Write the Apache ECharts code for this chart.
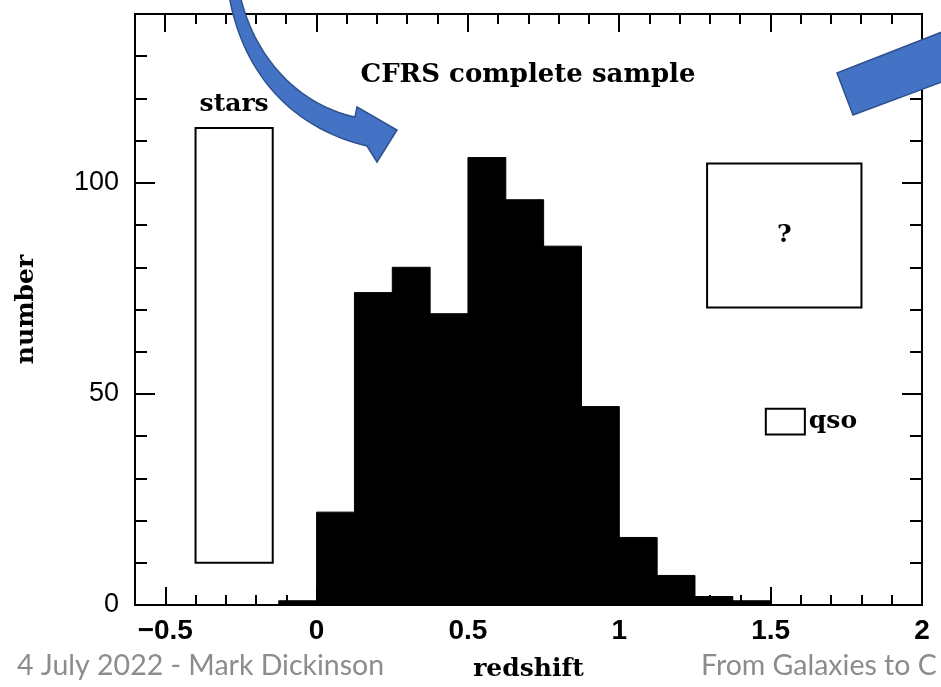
<!DOCTYPE html>
<html><head><meta charset="utf-8">
<script src="https://cdn.jsdelivr.net/npm/echarts@6/dist/echarts.min.js"></script>
<style>html,body{margin:0;padding:0;background:#fff}#c{width:941px;height:687px}</style>
</head><body><div id="c"></div>
<script>
// histogram of CFRS redshifts
const binStarts = [-0.125, 0, 0.125, 0.25, 0.375, 0.5, 0.625, 0.75, 0.875, 1.0, 1.125, 1.25, 1.375];
const binWidth = 0.125;
const counts = [1, 22, 74, 80, 69, 106, 96, 85, 47, 16, 7, 2, 1];

// outlined boxes (non-galaxy / unidentified objects)
const boxNames = ['stars', '?', 'qso'];
const boxXStart = [-0.4, 1.29, 1.484];
const boxXEnd = [-0.145, 1.8, 1.613];
const boxYLow = [10, 70.5, 40.4];
const boxYHigh = [113, 104.6, 46.5];

const xMajorTicks = [-0.5, 0, 0.5, 1, 1.5, 2];
const xTickLabels = ['\u22120.5', '0', '0.5', '1', '1.5', '2'];
const xMinorTicks = [-0.5, -0.4, -0.3, -0.2, -0.1, 0, 0.1, 0.2, 0.3, 0.4, 0.5, 0.6, 0.7, 0.8, 0.9,
  1.0, 1.1, 1.2, 1.3, 1.4, 1.5, 1.6, 1.7, 1.8, 1.9];
const yMajorTicks = [0, 50, 100];
const yTickLabels = ['0', '50', '100'];

const titleText = 'CFRS complete sample';
const xName = 'redshift';
const yName = 'number';
const footerLeft = '4 July 2022 - Mark Dickinson';
const footerRight = 'From Galaxies to C';

const X_MIN = -0.6, X_MAX = 2.0, Y_MIN = 0, Y_MAX = 140;
const serifBold = {fontFamily: 'DejaVu Serif', fontWeight: 'bold', fontSize: 25, color: '#000'};

function lookup(vals, labels, v) {
  const i = vals.findIndex(t => Math.abs(t - v) < 1e-6);
  return i >= 0 ? labels[i] : '';
}
function minorX() {
  return {type: 'value', position: 'bottom', min: X_MIN, max: X_MAX, interval: 0.1,
    axisLine: {show: false, onZero: false}, splitLine: {show: false}, axisLabel: {show: false},
    axisTick: {show: true, inside: true, length: 10, lineStyle: {color: '#000', width: 2}}};
}
function majorX() {
  return {type: 'value', position: 'bottom', min: X_MIN, max: X_MAX,
    axisLine: {show: false, onZero: false}, splitLine: {show: false},
    axisTick: {show: true, inside: true, length: 18, customValues: xMajorTicks, lineStyle: {color: '#000', width: 2}},
    axisLabel: {show: true, customValues: xMajorTicks, margin: 12,
      formatter: v => lookup(xMajorTicks, xTickLabels, v),
      fontFamily: 'Liberation Sans', fontWeight: 'bold', fontSize: 28, color: '#000'},
    name: xName, nameLocation: 'middle', nameGap: 52, nameTextStyle: serifBold};
}
function minorY(pos) {
  return {type: 'value', position: pos, min: Y_MIN, max: Y_MAX, interval: 10,
    axisLine: {show: false, onZero: false}, splitLine: {show: false}, axisLabel: {show: false},
    axisTick: {show: true, inside: true, length: 12, lineStyle: {color: '#000', width: 2}}};
}
function majorY(pos, withLabels) {
  const a = {type: 'value', position: pos, min: Y_MIN, max: Y_MAX,
    axisLine: {show: false, onZero: false}, splitLine: {show: false},
    axisTick: {show: true, inside: true, length: 20, customValues: yMajorTicks, lineStyle: {color: '#000', width: 2}},
    axisLabel: {show: withLabels, customValues: yMajorTicks, margin: 16,
      formatter: v => lookup(yMajorTicks, yTickLabels, v),
      fontFamily: 'Liberation Sans', fontSize: 27, color: '#000'}};
  if (withLabels) {
    a.name = yName; a.nameLocation = 'middle'; a.nameGap = 96; a.nameTextStyle = serifBold;
  }
  return a;
}

// decorative arrow outline helpers
function cubic(p0, p1, p2, p3, n) {
  const pts = [];
  for (let k = 0; k <= n; k++) {
    const t = k / n, u = 1 - t;
    pts.push([
      u*u*u*p0[0] + 3*u*u*t*p1[0] + 3*u*t*t*p2[0] + t*t*t*p3[0],
      u*u*u*p0[1] + 3*u*u*t*p1[1] + 3*u*t*t*p2[1] + t*t*t*p3[1]
    ]);
  }
  return pts;
}
const curvedArrow = [].concat(
  cubic([229, -5], [240, 60], [280, 125], [367, 146], 30),
  [[377, 162], [397, 130], [357, 107]],
  cubic([355, 117], [300, 105], [255, 60], [240, -5], 30)
);
const straightArrow = [[837, 73], [970, 21], [990, 64], [853, 115]];

const histData = binStarts.map((s, i) => [s, s + binWidth, counts[i]]);
const boxData = boxNames.map((n, i) => [boxXStart[i], boxXEnd[i], boxYLow[i], boxYHigh[i], i]);
// top-edge ticks (mirror of the bottom axis), positioned through the x scale
const topTickData = xMinorTicks.map(v => [v, xMajorTicks.some(m => Math.abs(m - v) < 1e-6) ? 1 : 0]);

const chart = echarts.init(document.getElementById('c'), null, {renderer: 'canvas'});
chart.setOption({
  animation: false,
  backgroundColor: '#fff',
  title: {text: titleText, left: 528, top: 62, textAlign: 'center', padding: 0,
    textStyle: {fontFamily: 'DejaVu Serif', fontWeight: 'bold', fontSize: 26, color: '#000'}},
  grid: {left: 135, right: 19, top: 14, bottom: 82, show: true, borderColor: '#000', borderWidth: 2},
  xAxis: [minorX(), majorX()],
  yAxis: [minorY('left'), majorY('left', true), minorY('right'), majorY('right', false)],
  series: [
    {type: 'custom', name: 'galaxies', xAxisIndex: 0, yAxisIndex: 0, data: histData,
      renderItem: (params, api) => {
        const p0 = api.coord([api.value(0), 0]);
        const p1 = api.coord([api.value(1), api.value(2)]);
        return {type: 'rect', shape: {x: p0[0], y: p1[1], width: p1[0] - p0[0], height: p0[1] - p1[1]},
          style: {fill: '#000', stroke: '#000', lineWidth: 1}};
      }},
    {type: 'custom', name: 'other', xAxisIndex: 0, yAxisIndex: 0, data: boxData,
      renderItem: (params, api) => {
        const i = api.value(4);
        const p0 = api.coord([api.value(0), api.value(2)]);
        const p1 = api.coord([api.value(1), api.value(3)]);
        const x = p0[0], y = p1[1], w = p1[0] - p0[0], h = p0[1] - p1[1];
        let tx, ty, al, va;
        if (i === 0) { tx = x + w / 2; ty = y - 11; al = 'center'; va = 'bottom'; }
        else if (i === 1) { tx = x + w / 2; ty = y + h / 2; al = 'center'; va = 'middle'; }
        else { tx = x + w + 4; ty = y + h / 2; al = 'left'; va = 'middle'; }
        return {type: 'group', children: [
          {type: 'rect', shape: {x: x, y: y, width: w, height: h}, style: {fill: 'none', stroke: '#000', lineWidth: 2}},
          {type: 'text', style: {text: boxNames[i], x: tx, y: ty, align: al, verticalAlign: va,
            fontFamily: 'DejaVu Serif', fontWeight: 'bold', fontSize: 25, fill: '#000'}}
        ]};
      }},
    {type: 'custom', name: 'topTicks', xAxisIndex: 0, yAxisIndex: 0, data: topTickData, silent: true,
      renderItem: (params, api) => {
        const p = api.coord([api.value(0), Y_MAX]);
        const len = api.value(1) ? 18 : 10;
        const x = Math.round(p[0]);
        return {type: 'line', shape: {x1: x, y1: p[1], x2: x, y2: p[1] + len},
          style: {stroke: '#000', lineWidth: 2}};
      }}
  ],
  graphic: [
    {type: 'text', x: 17, y: 666, z: 50, style: {text: footerLeft, verticalAlign: 'middle',
      fontFamily: 'Lato', fontSize: 28.5, fill: '#8c8c8c'}},
    {type: 'text', x: 701, y: 666, z: 50, style: {text: footerRight, verticalAlign: 'middle',
      fontFamily: 'Lato', fontSize: 28.5, fill: '#8c8c8c'}},
    {type: 'polygon', z: 100, shape: {points: curvedArrow},
      style: {fill: '#4472C4', stroke: '#2F528F', lineWidth: 1.5}},
    {type: 'polygon', z: 100, shape: {points: straightArrow},
      style: {fill: '#4472C4', stroke: '#2F528F', lineWidth: 1.5}}
  ]
});
</script></body></html>
